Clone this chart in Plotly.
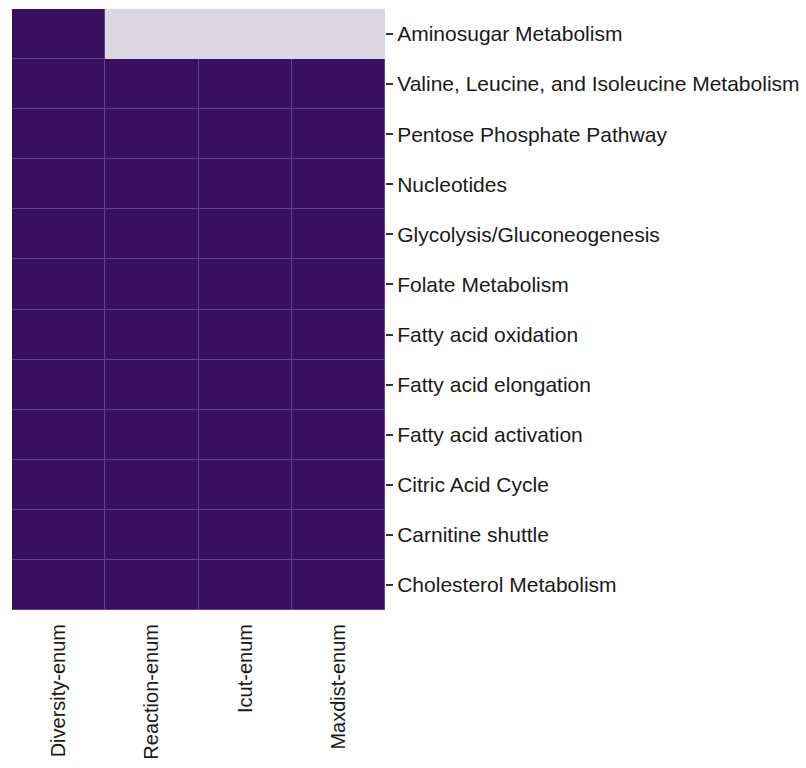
import numpy as np
import plotly.graph_objects as go

# Enumeration methods (columns) and metabolic subsystems (rows, top to bottom)
methods = ["Diversity-enum", "Reaction-enum", "Icut-enum", "Maxdist-enum"]
subsystems = [
    "Aminosugar Metabolism",
    "Valine, Leucine, and Isoleucine Metabolism",
    "Pentose Phosphate Pathway",
    "Nucleotides",
    "Glycolysis/Gluconeogenesis",
    "Folate Metabolism",
    "Fatty acid oxidation",
    "Fatty acid elongation",
    "Fatty acid activation",
    "Citric Acid Cycle",
    "Carnitine shuttle",
    "Cholesterol Metabolism",
]

# Per-subsystem scores for each method (None = not available)
diversity_enum = [1.0] * 12
reaction_enum = [None] + [1.0] * 11
icut_enum = [None] + [1.0] * 11
maxdist_enum = [None] + [1.0] * 11

z = np.array([diversity_enum, reaction_enum, icut_enum, maxdist_enum], dtype=float).T
# Underlay covering every available cell; its colour shows through the cell gaps as grid lines
mask = np.where(np.isnan(z), np.nan, 1.0)

cell_color = "#3a0f62"
line_color = "#5d4490"
missing_color = "#dcd8e2"

fig = go.Figure()
fig.add_trace(go.Heatmap(
    z=mask, x=methods, y=subsystems,
    colorscale=[[0, line_color], [1, line_color]],
    showscale=False, hoverinfo="skip",
))
fig.add_trace(go.Heatmap(
    z=z, x=methods, y=subsystems,
    colorscale=[[0, cell_color], [1, cell_color]],
    zmin=0, zmax=1, xgap=1, ygap=1, showscale=False,
))

fig.update_layout(
    width=806, height=768,
    margin=dict(l=12, r=421, t=9, b=158),
    paper_bgcolor="white",
    plot_bgcolor=missing_color,
    font=dict(family="Liberation Sans, Arial, sans-serif", size=21, color="#1a1a1a"),
)
fig.update_xaxes(
    automargin=False,
    tickangle=-90, showgrid=False, zeroline=False, showline=False,
    ticks="outside", ticklen=5, tickcolor="rgba(0,0,0,0)",
    tickfont=dict(size=20), range=[-0.5, 3.5],
)
fig.update_yaxes(
    automargin=False,
    side="right", autorange="reversed", showgrid=False, zeroline=False,
    showline=False, ticks="outside", ticklen=7, tickwidth=1.5,
    tickcolor="#333333", tickfont=dict(size=21),
)

fig.write_html("out.html")
